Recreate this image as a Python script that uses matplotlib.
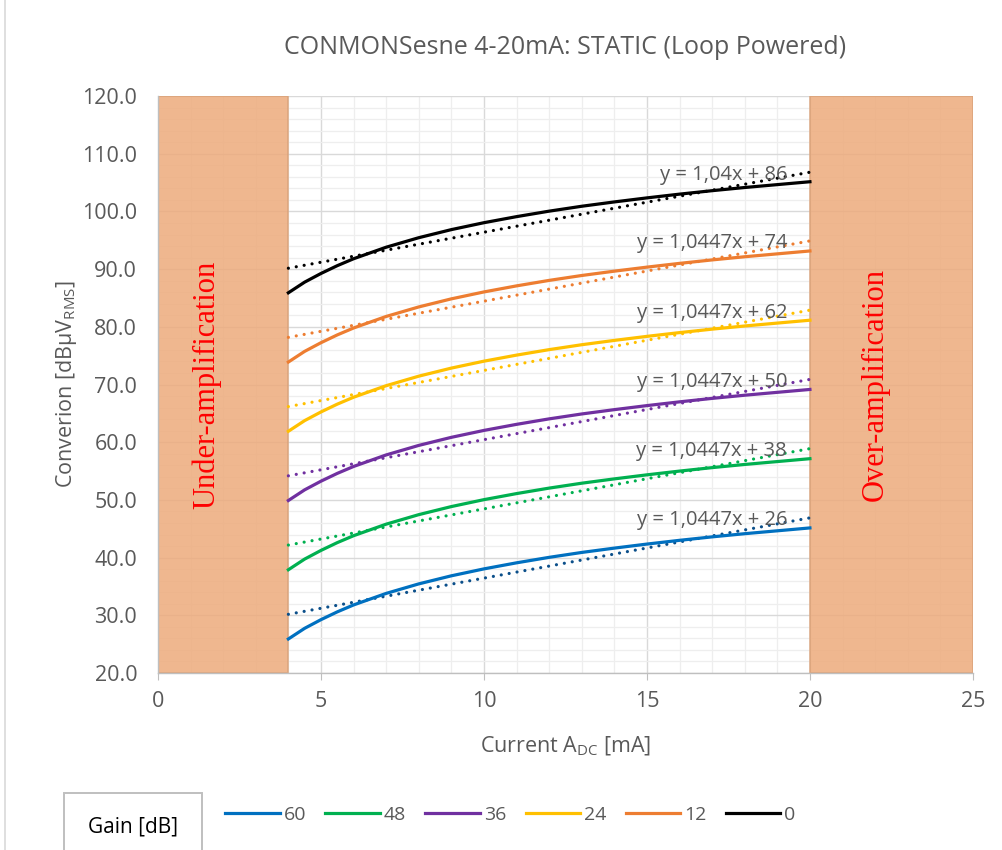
import matplotlib.pyplot as plt
from matplotlib.lines import Line2D
import numpy as np

# current [mA]
current = [4, 4.5, 5, 5.5, 6, 7, 8, 9, 10, 11, 12, 13, 14, 15, 16, 17, 18, 19, 20]

# conversion [dBuV RMS] per gain setting
gain_60 = [25.9, 27.75, 29.25, 30.6, 31.8, 33.8, 35.45, 36.85, 38.05, 39.1, 40.05,
           40.9, 41.65, 42.35, 43.0, 43.6, 44.15, 44.65, 45.15]
gain_48 = [37.9, 39.75, 41.25, 42.6, 43.8, 45.8, 47.45, 48.85, 50.05, 51.1, 52.05,
           52.9, 53.65, 54.35, 55.0, 55.6, 56.15, 56.65, 57.15]
gain_36 = [49.9, 51.75, 53.25, 54.6, 55.8, 57.8, 59.45, 60.85, 62.05, 63.1, 64.05,
           64.9, 65.65, 66.35, 67.0, 67.6, 68.15, 68.65, 69.15]
gain_24 = [61.9, 63.75, 65.25, 66.6, 67.8, 69.8, 71.45, 72.85, 74.05, 75.1, 76.05,
           76.9, 77.65, 78.35, 79.0, 79.6, 80.15, 80.65, 81.15]
gain_12 = [73.9, 75.75, 77.25, 78.6, 79.8, 81.8, 83.45, 84.85, 86.05, 87.1, 88.05,
           88.9, 89.65, 90.35, 91.0, 91.6, 92.15, 92.65, 93.15]
gain_0 = [85.9, 87.75, 89.25, 90.6, 91.8, 93.8, 95.45, 96.85, 98.05, 99.1, 100.05,
          100.9, 101.65, 102.35, 103.0, 103.6, 104.15, 104.65, 105.15]

series = [gain_60, gain_48, gain_36, gain_24, gain_12, gain_0]
labels = ["60", "48", "36", "24", "12", "0"]
colors = ["#0070C0", "#00B050", "#7030A0", "#FFC000", "#ED7D31", "#000000"]
trend_colors = ["#0B4F8A", "#00B050", "#7030A0", "#FFC000", "#ED7D31", "#000000"]

# linear trendlines as labelled in the chart
slopes = [1.0447, 1.0447, 1.0447, 1.0447, 1.0447, 1.04]
intercepts = [26, 38, 50, 62, 74, 86]
eq_labels = ["y = 1,0447x + 26", "y = 1,0447x + 38", "y = 1,0447x + 50",
             "y = 1,0447x + 62", "y = 1,0447x + 74", "y = 1,04x + 86"]

SANS = ["Open Sans", "DejaVu Sans"]
GREY = "#595959"


def main():
    fig = plt.figure(figsize=(10.03, 8.5), dpi=100)
    ax = fig.add_axes([0.1575, 0.2082, 0.8125, 0.6788])

    # forbidden zones
    for x0, x1 in [(0, 4), (20, 25)]:
        ax.axvspan(x0, x1, facecolor="#EDAB7C", alpha=0.85,
                   edgecolor="#D9A27A", linewidth=1.2, zorder=2)

    ax.text(1.5, 70, "Under-amplification", rotation=90, color="red",
            family="Liberation Serif", fontsize=22, ha="center", va="center", zorder=3)
    ax.text(22, 70, "Over-amplification", rotation=90, color="red",
            family="Liberation Serif", fontsize=22, ha="center", va="center", zorder=3)

    tx = np.array([current[0], current[-1]])
    for ys, lab, c, tc, m, b, eq in zip(series, labels, colors, trend_colors,
                                        slopes, intercepts, eq_labels):
        ax.plot(current, ys, color=c, lw=2.3, label=lab, zorder=5,
                solid_joinstyle="round")
        ax.plot(tx, m * tx + b, color=tc, lw=2.3, linestyle=(0, (0.01, 2.5)),
                dash_capstyle="round", zorder=4)
        ax.text(19.3, m * 19.3 + b + 0.3, eq, ha="right", va="center",
                color=GREY, fontsize=14.5, family="Open Sans", zorder=6)

    ax.set_xlim(0, 25)
    ax.set_ylim(20, 120)
    ax.set_xticks(np.arange(0, 26, 5))
    ax.set_xticks(np.arange(0, 26, 1), minor=True)
    ax.set_yticks(np.arange(20, 121, 10))
    ax.set_yticks(np.arange(20, 121, 2), minor=True)
    ax.set_yticklabels([f"{v:.1f}" for v in np.arange(20, 121, 10)])
    ax.grid(which="major", color="#D9D9D9", lw=1.0, zorder=1)
    ax.grid(which="minor", color="#EEEEEE", lw=0.9, zorder=1)
    ax.set_axisbelow(True)

    for s in ["top", "right"]:
        ax.spines[s].set_visible(False)
    for s in ["left", "bottom"]:
        ax.spines[s].set_color("#BFBFBF")
        ax.spines[s].set_linewidth(1.0)
    ax.tick_params(axis="x", which="major", length=5, color="#BFBFBF",
                   labelsize=15.5, labelcolor=GREY, pad=8)
    ax.tick_params(axis="y", which="major", length=0, labelsize=15.5,
                   labelcolor=GREY, pad=15)
    ax.tick_params(which="minor", length=0)
    for t in ax.get_xticklabels() + ax.get_yticklabels():
        t.set_family("Open Sans")

    ax.set_title("CONMONSesne 4-20mA: STATIC (Loop Powered)", family=SANS,
                 fontsize=18, color=GREY, pad=30)
    ax.set_xlabel(r"Current A$_{\mathregular{DC}}$ [mA]", family=SANS,
                  fontsize=15.5, color=GREY, labelpad=16)
    ax.set_ylabel(r"Converion [dBµV$_{\mathregular{RMS}}$]", family=SANS,
                  fontsize=15.5, color=GREY, labelpad=2)

    # legend
    leg = fig.legend(loc="center left", bbox_to_anchor=(0.207, 0.041), ncol=6,
                     frameon=False, handlelength=2.8, handletextpad=0.2,
                     columnspacing=1.0, prop={"family": SANS, "size": 14})
    for t in leg.get_texts():
        t.set_color(GREY)
    fig.text(0.1325, 0.027, "Gain [dB]", ha="center", va="center", family=SANS,
             fontsize=15, color="black",
             bbox=dict(boxstyle="square,pad=1.15", fc="white", ec="#BFBFBF", lw=1.4))

    fig.add_artist(Line2D([0.005, 0.005], [0, 1], color="#D9D9D9", lw=1.2))

    fig.savefig("out.png", dpi=100)


if __name__ == "__main__":
    main()
